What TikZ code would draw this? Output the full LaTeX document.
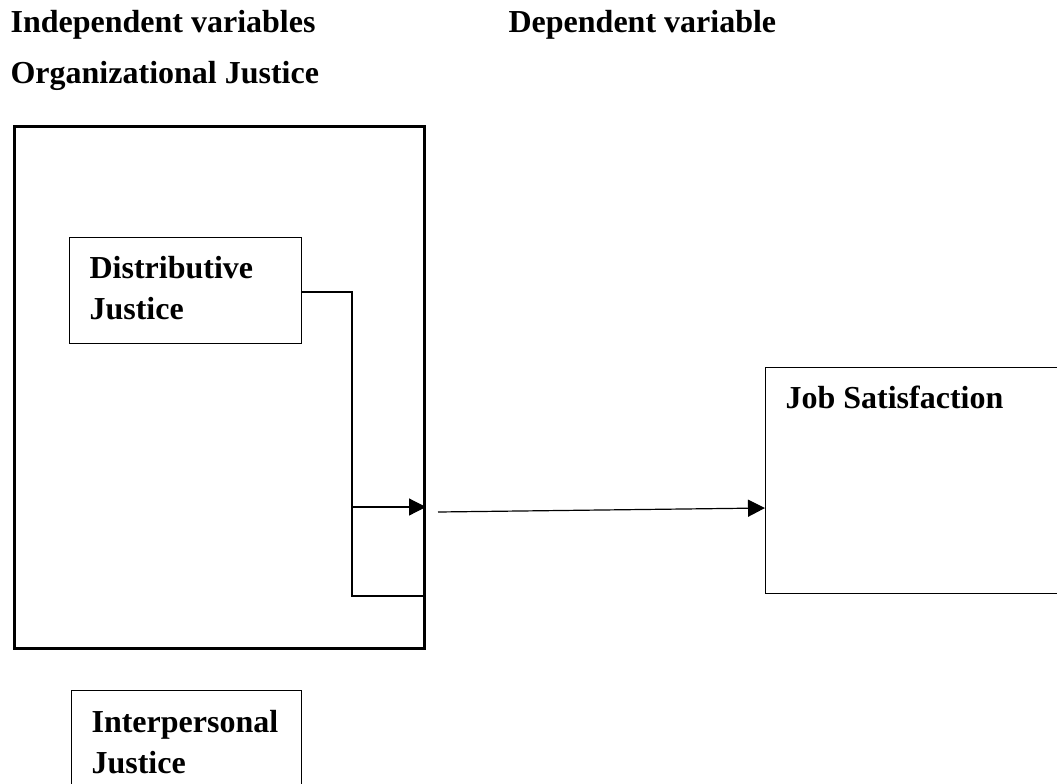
\documentclass[tikz,border=0pt]{standalone}
\usepackage{fontspec}
\setmainfont{Liberation Serif}
\usepackage{tikz}
\usetikzlibrary{arrows.meta}
\usetikzlibrary{positioning}

\begin{document}
\begin{tikzpicture}[x=1pt,y=-1pt,>={Triangle[length=17pt,width=17pt]},line width=1.2pt]
	\tikzstyle{txt}=[inner sep=0pt, font=\fontsize{32}{41}\selectfont\bfseries, align=left]
	\tikzstyle{box}=[draw, rectangle, inner sep=0pt, anchor=north west, line width=1.2pt]
	\clip (0,0) rectangle (1057,784);

	% headings
	\node[txt,anchor=base west] (indep) at (10,33) {Independent variables};
	\node[txt,anchor=base west] (dep) at (508,33) {Dependent variable};
	\node[txt,anchor=base west] (orgt) at (10,83) {Organizational Justice};

	% boxes
	\node[box,line width=3pt,minimum width=410,minimum height=522] (org) at (13,125) {};
	\node[box,minimum width=232,minimum height=106] (dist) at (69,237) {};
	\node[txt,anchor=north west] (distt) at (89,255.5) {Distributive\\Justice};
	\node[box,minimum width=230,minimum height=120] (inter) at (71,690) {};
	\node[txt,anchor=north west] (intert) at (91,709.5) {Interpersonal\\Justice};
	\node[box,minimum width=330,minimum height=226] (job) at (765,367) {};
	\node[txt,anchor=base west] (jobt) at (785,408) {Job Satisfaction};

	% connectors
	\coordinate (ctop) at (352,292);
	\coordinate (cmid) at (352,507);
	\coordinate (cbot) at (352,596);
	\coordinate (src) at (438,512);
	\coordinate (jobin) at (765,508);
	\draw (dist.east |- ctop) -- (ctop) -- (cbot) -- (cbot -| org.east);
	\draw[->] (cmid) -- (cmid -| org.east);
	\draw[->] (src) -- (jobin);
\end{tikzpicture}
\end{document}
